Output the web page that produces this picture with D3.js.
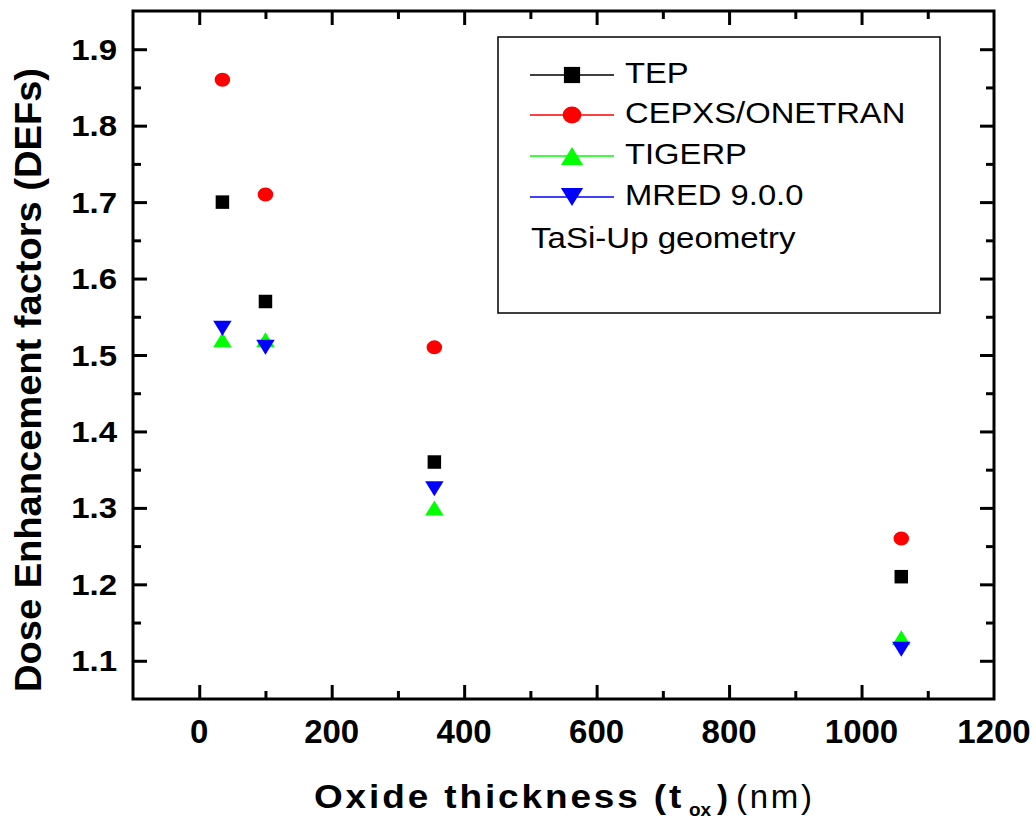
<!DOCTYPE html>
<html>
<head>
<meta charset="utf-8">
<script src="https://cdn.jsdelivr.net/npm/d3@7"></script>
<style>
  body { margin: 0; background: #fff; }
  svg { display: block; }
</style>
</head>
<body>
<svg id="chart" width="1036" height="821"></svg>
<script>
// Oxide thickness (nm) at which each code was evaluated
const thickness = [35, 100, 355, 1060];

// Dose enhancement factors per code
const tepValues    = [1.70, 1.57, 1.36, 1.21];
const cepxsValues  = [1.86, 1.71, 1.51, 1.26];
const tigerpValues = [1.52, 1.52, 1.30, 1.13];
const mredValues   = [1.535, 1.51, 1.325, 1.115];

const seriesNames  = ["TEP", "CEPXS/ONETRAN", "TIGERP", "MRED 9.0.0"];
const seriesColors = ["#000000", "#ff0000", "#00ff00", "#0000ff"];
const seriesShapes = ["square", "circle", "up", "down"];

const xTickValues      = [0, 200, 400, 600, 800, 1000, 1200];
const xMinorTickValues = [100, 300, 500, 700, 900, 1100];
const yTickValues      = [1.1, 1.2, 1.3, 1.4, 1.5, 1.6, 1.7, 1.8, 1.9];
const yMinorTickValues = [1.15, 1.25, 1.35, 1.45, 1.55, 1.65, 1.75, 1.85];

const geometryNote = "TaSi-Up geometry";

const series = seriesNames.map((name, i) => ({
  name,
  color: seriesColors[i],
  shape: seriesShapes[i],
  values: [tepValues, cepxsValues, tigerpValues, mredValues][i]
}));

const svg = d3.select("#chart");
const plot = { left: 133, right: 994, top: 11, bottom: 699 };

const x = d3.scaleLinear().domain([-100, 1200]).range([plot.left, plot.right]);
const y = d3.scaleLinear().domain([1.05, 1.95]).range([plot.bottom, plot.top]);

const FONT = "'Liberation Sans', Arial, Helvetica, sans-serif";
const MAJOR = 14, MINOR = 8;

// Inward ticks on all four sides (negative inner size points them into the plot)
function tickAxis(axisFn, scale, pos, values, size) {
  const g = svg.append("g").attr("transform", pos)
    .call(axisFn(scale).tickValues(values).tickSizeInner(-size).tickSizeOuter(0).tickFormat(""));
  g.select(".domain").remove();
  g.selectAll(".tick line").attr("stroke", "#000").attr("stroke-width", 3);
  g.selectAll(".tick text").remove();
  return g;
}
const xMajorInside = xTickValues.filter(v => v < 1200);
tickAxis(d3.axisBottom, x, `translate(0,${plot.bottom})`, xMajorInside, MAJOR);
tickAxis(d3.axisBottom, x, `translate(0,${plot.bottom})`, xMinorTickValues, MINOR);
tickAxis(d3.axisTop, x, `translate(0,${plot.top})`, xMajorInside, MAJOR);
tickAxis(d3.axisTop, x, `translate(0,${plot.top})`, xMinorTickValues, MINOR);
tickAxis(d3.axisLeft, y, `translate(${plot.left},0)`, yTickValues, MAJOR);
tickAxis(d3.axisLeft, y, `translate(${plot.left},0)`, yMinorTickValues, MINOR);
tickAxis(d3.axisRight, y, `translate(${plot.right},0)`, yTickValues, MAJOR);
tickAxis(d3.axisRight, y, `translate(${plot.right},0)`, yMinorTickValues, MINOR);

// Frame
svg.append("rect")
  .attr("x", plot.left).attr("y", plot.top)
  .attr("width", plot.right - plot.left).attr("height", plot.bottom - plot.top)
  .attr("fill", "none").attr("stroke", "#000").attr("stroke-width", 3);

// Tick labels
svg.append("g").selectAll("text").data(xTickValues).join("text")
  .attr("x", d => x(d)).attr("y", 743)
  .attr("text-anchor", "middle")
  .attr("font-family", FONT).attr("font-weight", "bold").attr("font-size", 33)
  .text(d => d3.format("d")(d));

svg.append("g").selectAll("text").data(yTickValues).join("text")
  .attr("transform", d => `translate(117,${y(d) + 10.5}) scale(1.1,1)`)
  .attr("text-anchor", "end")
  .attr("font-family", FONT).attr("font-weight", "bold").attr("font-size", 30)
  .text(d => d3.format(".1f")(d));

// Axis titles
svg.append("text")
  .attr("transform", "translate(41,380) rotate(-90)")
  .attr("text-anchor", "middle")
  .attr("font-family", FONT).attr("font-weight", "bold").attr("font-size", 36)
  .attr("textLength", 624).attr("lengthAdjust", "spacingAndGlyphs")
  .text("Dose Enhancement factors (DEFs)");

const xt = svg.append("g").attr("font-family", FONT).attr("font-size", 33);
xt.append("text").attr("transform", "translate(314,808) scale(1.12,1)").attr("font-weight", "bold")
  .attr("textLength", 328).attr("lengthAdjust", "spacing")
  .text("Oxide thickness (t");
xt.append("text").attr("x", 689).attr("y", 816).attr("font-weight", "bold").attr("font-size", 19)
  .text("ox");
xt.append("text").attr("x", 717).attr("y", 808).attr("font-weight", "bold").text(")");
xt.append("text").attr("x", 736).attr("y", 808)
  .attr("textLength", 76).attr("lengthAdjust", "spacing")
  .text("(nm)");

// Marker shapes
function markerPath(shape, big) {
  const k = big ? 1.2 : 1;
  if (shape === "square") {
    const s = 13.5 * k / 2;
    return `M${-s},${-s}H${s}V${s}H${-s}Z`;
  }
  if (shape === "circle") {
    const rx = 7.8 * k, ry = 7 * k;
    return `M${-rx},0A${rx},${ry} 0 1,0 ${rx},0A${rx},${ry} 0 1,0 ${-rx},0Z`;
  }
  const w = 18.5 * k / 2, h = 15 * k / 2;
  if (shape === "up") return `M0,${-h}L${w},${h}L${-w},${h}Z`;
  return `M0,${h}L${w},${-h}L${-w},${-h}Z`;
}

// Data points
series.forEach(s => {
  svg.append("g").selectAll("path")
    .data(thickness.map((t, i) => ({ t, v: s.values[i] })))
    .join("path")
    .attr("transform", d => `translate(${x(d.t)},${y(d.v)})`)
    .attr("d", markerPath(s.shape, false))
    .attr("fill", s.color);
});

// Legend
const legend = svg.append("g").attr("font-family", FONT);
legend.append("rect")
  .attr("x", 498).attr("y", 37).attr("width", 442).attr("height", 276)
  .attr("fill", "#fff").attr("stroke", "#000").attr("stroke-width", 1.5);

const rowY = [75, 115, 156, 197];
series.forEach((s, i) => {
  const gy = rowY[i];
  legend.append("line")
    .attr("x1", 530).attr("x2", 614).attr("y1", gy).attr("y2", gy)
    .attr("stroke", s.color).attr("stroke-width", 1.5);
  legend.append("path")
    .attr("transform", `translate(572,${gy})`)
    .attr("d", markerPath(s.shape, true))
    .attr("fill", s.color);
  legend.append("text")
    .attr("transform", `translate(625,${gy + 8}) scale(1.13,1)`)
    .attr("font-size", 29)
    .text(s.name);
});
legend.append("text")
  .attr("transform", "translate(531,248) scale(1.14,1)")
  .attr("font-size", 29)
  .text(geometryNote);
</script>
</body>
</html>
